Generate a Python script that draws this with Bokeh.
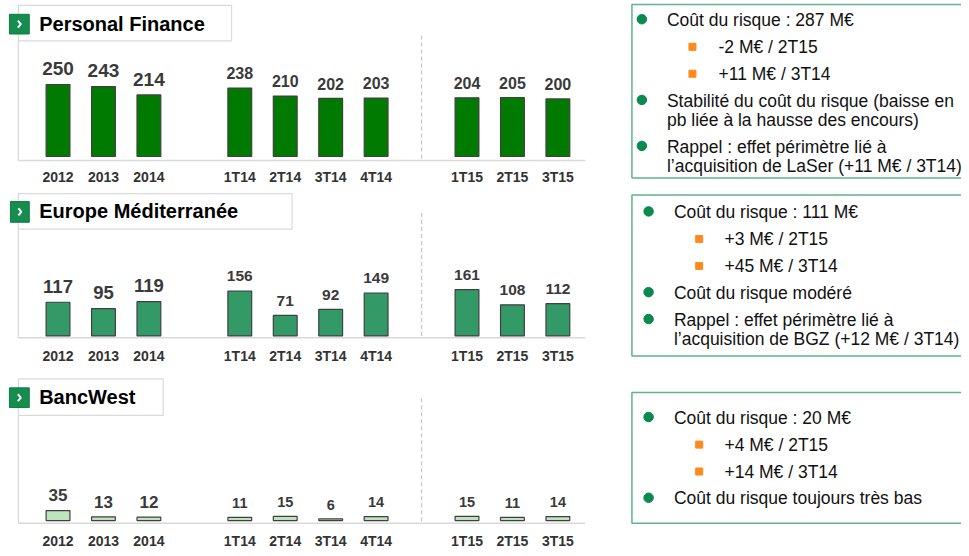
from bokeh.plotting import figure
from bokeh.models import Range1d
from bokeh.core.properties import value
from bokeh.embed import file_html
from bokeh.resources import INLINE

# ---------------- data ----------------
categories_years = ["2012", "2013", "2014"]
categories_2014 = ["1T14", "2T14", "3T14", "4T14"]
categories_2015 = ["1T15", "2T15", "3T15"]

personal_finance = [250, 243, 214, 238, 210, 202, 203, 204, 205, 200]
europe_med = [117, 95, 119, 156, 71, 92, 149, 161, 108, 112]
bancwest = [35, 13, 12, 11, 15, 6, 14, 15, 11, 14]

titles = ["Personal Finance", "Europe Méditerranée", "BancWest"]

notes_pf = [
    (0, ["Coût du risque : 287 M€"]),
    (1, ["-2 M€ / 2T15"]),
    (1, ["+11 M€ / 3T14"]),
    (0, ["Stabilité du coût du risque (baisse en", "pb liée à la hausse des encours)"]),
    (0, ["Rappel : effet périmètre lié à", "l’acquisition de LaSer (+11 M€ / 3T14)"]),
]
notes_em = [
    (0, ["Coût du risque : 111 M€"]),
    (1, ["+3 M€ / 2T15"]),
    (1, ["+45 M€ / 3T14"]),
    (0, ["Coût du risque modéré"]),
    (0, ["Rappel : effet périmètre lié à", "l’acquisition de BGZ (+12 M€ / 3T14)"]),
]
notes_bw = [
    (0, ["Coût du risque : 20 M€"]),
    (1, ["+4 M€ / 2T15"]),
    (1, ["+14 M€ / 3T14"]),
    (0, ["Coût du risque toujours très bas"]),
]

# ---------------- layout / style ----------------
W, H = 961, 548
X_LEFT, X_RIGHT = 0, 969           # reference-pixel frame of the drawing
Y_BOTTOM, Y_TOP = 556, 0
X0_PX, STEP_PX = 58.0, 45.82       # first bar centre and bar pitch (px)
SCALE = 0.292                      # px per M€
BAR_W = 24 / STEP_PX

SANS = value("Liberation Sans")

panels = [
    dict(values=personal_finance, title=titles[0], notes=notes_pf,
         base=158.3, line_y=162.3, hdr=(18, 233, 5, 41), title_y=23.7,
         icon=(9, 29, 14, 34), big=19, small=16,
         fill="#007A00",
         box=(636.7, 4, 180), first=19.7, bx=(646.7, 672, 697.7, 724)),
    dict(values=europe_med, title=titles[1], notes=notes_em,
         base=340.3, line_y=342.3, hdr=(18, 294, 196, 232), title_y=213.9,
         icon=(10, 29, 204, 225), big=18.5, small=15.5,
         fill="#339966",
         box=(636.7, 197.3, 360.7), first=214.7, bx=(653.5, 679, 704.5, 730)),
    dict(values=bancwest, title=titles[2], notes=notes_bw,
         base=527.7, line_y=530.3, hdr=(18, 164, 384, 421), title_y=402.5,
         icon=(9, 29, 393, 413), big=17, small=14.5,
         fill="#BEE3BE",
         box=(636.7, 397.7, 530.3), first=423.3, bx=(653.5, 679, 704.5, 730)),
]

groups = [categories_years, categories_2014, categories_2015]
positions, labels, is_year = [], [], []
idx = 0
separators = []
for gi, g in enumerate(groups):
    for c in g:
        positions.append(idx)
        labels.append(c)
        is_year.append(gi == 0)
        idx += 1
    if 0 < gi < len(groups) - 1:
        separators.append(idx)
    idx += 1

p = figure(width=W, height=H, x_range=Range1d(X_LEFT, X_RIGHT),
           y_range=Range1d(Y_BOTTOM, Y_TOP), output_backend="svg",
           toolbar_location=None, min_border=0, x_axis_location=None,
           y_axis_location=None, outline_line_color=None)
p.grid.visible = False
p.background_fill_color = "white"
p.border_fill_color = "white"

p.extra_x_ranges = {"bx": Range1d((X_LEFT - X0_PX) / STEP_PX, (X_RIGHT - X0_PX) / STEP_PX)}
yr = {}
for k, pn in enumerate(panels):
    yr[f"v{k}"] = Range1d((pn["base"] - Y_BOTTOM) / SCALE, (pn["base"] - Y_TOP) / SCALE)
p.extra_y_ranges = yr

ITEM_ADV, LINE_ADV = 27.3, 19.3
LABEL_GAP = 9

for k, pn in enumerate(panels):
    yn = f"v{k}"
    vals = pn["values"]
    l, r, t, b = pn["hdr"]
    # frame: left edge, baseline, header box
    p.segment(x0=[l], y0=[b], x1=[l], y1=[pn["line_y"]], line_color="#D9D9D9", line_width=1.3)
    p.segment(x0=[l], y0=[pn["line_y"]], x1=[589.5], y1=[pn["line_y"]],
              line_color="#D9D9D9", line_width=1.5)
    p.quad(left=[l], right=[r], top=[t], bottom=[b], fill_color="white",
           line_color="#DADADA", line_width=1.2)
    il, ir, it, ib = pn["icon"]
    p.quad(left=[il], right=[ir], top=[it], bottom=[ib], fill_color="#168C4E",
           line_color="#0F7A42", line_width=1)
    cx, cy = (il + ir) / 2, (it + ib) / 2
    p.line(x=[cx - 1.5, cx + 1.5, cx - 1.5], y=[cy - 3.5, cy, cy + 3.5],
           line_color="white", line_width=2)
    p.text(x=[39], y=[pn["title_y"]], text=[pn["title"]], text_color="black",
           text_font=SANS, text_font_style="bold", text_font_size="20px",
           text_align="left", text_baseline="middle")

    # separator between 2014 quarters and 2015 quarters
    for s in separators:
        p.segment(x0=[s], x1=[s], y0=[pn["line_y"] - 2], y1=[pn["line_y"] - 130],
                  x_range_name="bx", line_color="#C8C8C8", line_width=1.3,
                  line_dash="4 3")

    # bars
    p.vbar(x=positions, top=vals, bottom=0, width=BAR_W, x_range_name="bx",
           y_range_name=yn, fill_color=pn["fill"], line_color="#404040",
           line_width=1.2)

    yx = [x for x, y in zip(positions, is_year) if y]
    yv = [v for v, y in zip(vals, is_year) if y]
    qx = [x for x, y in zip(positions, is_year) if not y]
    qv = [v for v, y in zip(vals, is_year) if not y]
    for xs, vs, size in ((yx, yv, pn["big"]), (qx, qv, pn["small"])):
        p.text(x=xs, y=vs, text=[str(v) for v in vs], x_range_name="bx",
               y_range_name=yn, y_offset=-(LABEL_GAP + 0.36 * size),
               text_align="center", text_baseline="middle", text_font=SANS,
               text_font_style="bold", text_font_size=f"{size}px",
               text_color="#3A3A3A")
    p.text(x=positions, y=[0] * len(positions), text=labels, x_range_name="bx",
           y_range_name=yn, y_offset=20, text_align="center",
           text_baseline="middle", text_font=SANS, text_font_style="bold",
           text_font_size="14px", text_color="#333333")

    # note box
    bl, bt, bb = pn["box"]
    p.quad(left=[bl], right=[990], top=[bt], bottom=[bb], fill_color=None,
           line_color="#5FB48A", line_width=1.5)
    bx_dot, bx_txt, bx_sq, bx_sub = pn["bx"]
    y = pn["first"]
    dots_x, dots_y, sq_x, sq_y, tx, ty, tt = [], [], [], [], [], [], []
    for i, (lvl, lines) in enumerate(pn["notes"]):
        if i > 0:
            y += ITEM_ADV
        if lvl == 0:
            dots_x.append(bx_dot); dots_y.append(y - 0.7)
        else:
            sq_x.append(bx_sq); sq_y.append(y)
        for j, line in enumerate(lines):
            if j > 0:
                y += LINE_ADV
            tx.append(bx_txt if lvl == 0 else bx_sub)
            ty.append(y)
            tt.append(line)
    p.scatter(x=dots_x, y=dots_y, marker="circle", size=9.5, fill_color="#0B8A50",
              line_color="#0B8A50")
    p.scatter(x=sq_x, y=sq_y, marker="square", size=7, fill_color="#FF8A1C",
              line_color="#FF8A1C")
    p.text(x=tx, y=ty, text=tt, text_font=SANS, text_font_size="17.5px",
           text_color="#111111", text_align="left", text_baseline="middle")

open("out.html", "w").write(file_html(p, INLINE))
